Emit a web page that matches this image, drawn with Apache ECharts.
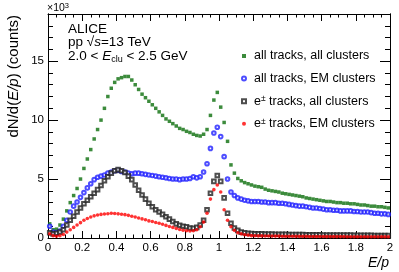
<!DOCTYPE html>
<html><head><meta charset="utf-8">
<script src="https://cdn.jsdelivr.net/npm/echarts@6/dist/echarts.min.js"></script>
<style>html,body{margin:0;padding:0;background:#fff}#c{width:399px;height:272px}</style>
</head><body><div id="c"></div>
<script>
// E/p bin centres (bin width 0.02, range 0..2)
const binWidth = 0.02;
const binCenters = [];
for (let i = 0; i < 100; i++) binCenters.push(Math.round((binWidth / 2 + binWidth * i) * 1000) / 1000);

// counts in units of 10^3
const allTracksAllClusters = [
  1.2, 0.7, 0.75, 1.1, 1.6, 2.3, 3.0, 3.6, 4.2, 5.0,
  5.9, 6.7, 7.5, 8.4, 9.2, 10.0, 11.0, 12.0, 12.7, 13.2,
  13.5, 13.6, 13.7, 13.7, 13.4, 13.0, 12.6, 12.2, 11.9, 11.6,
  11.3, 11.0, 10.7, 10.4, 10.1, 9.9, 9.7, 9.5, 9.3, 9.2,
  9.05, 8.95, 8.8, 8.7, 8.65, 8.8, 9.2, 10.4, 11.7, 12.35,
  11.1, 9.8, 8.2, 6.2, 5.5, 5.05, 4.85, 4.7, 4.6, 4.5,
  4.4, 4.35, 4.3, 4.15, 4.05, 4.0, 3.95, 3.9, 3.8, 3.75,
  3.7, 3.65, 3.6, 3.55, 3.5, 3.4, 3.35, 3.3, 3.25, 3.2,
  3.15, 3.1, 3.1, 3.05, 3.0, 3.0, 2.95, 2.95, 2.9, 2.9,
  2.85, 2.8, 2.8, 2.75, 2.7, 2.7, 2.65, 2.65, 2.6, 2.55
];
const allTracksEMClusters = [
  1.0, 0.5, 0.45, 0.6, 1.0, 1.5, 2.2, 2.7, 3.05, 3.45,
  3.85, 4.25, 4.6, 4.95, 5.15, 5.25, 5.35, 5.5, 5.6, 5.7,
  5.75, 5.65, 5.6, 5.5, 5.45, 5.5, 5.5, 5.45, 5.4, 5.35,
  5.3, 5.25, 5.2, 5.15, 5.1, 5.05, 5.0, 5.0, 4.95, 5.0,
  5.0, 5.05, 5.2, 5.1, 5.2, 5.6, 6.3, 7.6, 8.9, 9.4,
  8.6, 6.9, 5.0, 3.9, 3.6, 3.4, 3.3, 3.2, 3.15, 3.1,
  3.1, 3.1, 3.05, 3.05, 3.0, 3.0, 3.0, 2.95, 2.95, 2.9,
  2.85, 2.8, 2.75, 2.7, 2.7, 2.65, 2.6, 2.55, 2.55, 2.5,
  2.45, 2.4, 2.4, 2.35, 2.35, 2.3, 2.3, 2.3, 2.3, 2.25,
  2.25, 2.2, 2.2, 2.2, 2.15, 2.1, 2.1, 2.05, 2.05, 2.0
];
const eTracksAllClusters = [
  0.45, 0.35, 0.4, 0.5, 0.7, 1.1, 1.5, 1.85, 2.2, 2.55,
  2.9, 3.2, 3.5, 3.8, 4.1, 4.45, 4.85, 5.2, 5.5, 5.7,
  5.8, 5.7, 5.55, 5.25, 4.95, 4.5, 4.05, 3.65, 3.3, 2.95,
  2.65, 2.4, 2.2, 2.0, 1.8, 1.6, 1.4, 1.2, 1.08, 1.0,
  0.95, 0.85, 0.82, 0.9, 1.1, 1.5, 2.4, 3.8, 4.8, 5.3,
  4.8, 3.4, 2.1, 1.25, 0.85, 0.65, 0.5, 0.45, 0.4, 0.38,
  0.36, 0.35, 0.35, 0.34, 0.33, 0.33, 0.32, 0.32, 0.31, 0.31,
  0.3, 0.3, 0.3, 0.29, 0.29, 0.28, 0.28, 0.28, 0.27, 0.27,
  0.26, 0.26, 0.26, 0.25, 0.25, 0.25, 0.24, 0.24, 0.24, 0.23,
  0.23, 0.23, 0.22, 0.22, 0.22, 0.21, 0.21, 0.21, 0.2, 0.2
];
const eTracksEMClusters = [
  0.35, 0.2, 0.15, 0.2, 0.3, 0.5, 0.7, 0.9, 1.1, 1.3,
  1.5, 1.65, 1.78, 1.88, 1.95, 2.0, 2.03, 2.06, 2.1, 2.08,
  2.05, 2.02, 1.98, 1.92, 1.85, 1.78, 1.7, 1.62, 1.55, 1.45,
  1.4, 1.32, 1.25, 1.17, 1.07, 0.98, 0.9, 0.8, 0.72, 0.66,
  0.62, 0.6, 0.62, 0.7, 0.95, 1.35, 2.1, 3.3, 4.1, 4.5,
  3.9, 2.4, 1.5, 0.95, 0.65, 0.45, 0.35, 0.28, 0.24, 0.2,
  0.19, 0.18, 0.18, 0.17, 0.17, 0.16, 0.16, 0.16, 0.15, 0.15,
  0.15, 0.15, 0.14, 0.14, 0.14, 0.14, 0.13, 0.13, 0.13, 0.13,
  0.13, 0.12, 0.12, 0.12, 0.12, 0.12, 0.12, 0.11, 0.11, 0.11,
  0.11, 0.11, 0.11, 0.11, 0.1, 0.1, 0.1, 0.1, 0.1, 0.1
];

const seriesNames = ['all tracks, all clusters', 'all tracks, EM clusters', 'e± tracks, all clusters', 'e± tracks, EM clusters'];
const xTicks = { min: 0, max: 2, interval: 0.2 };
const yTicks = { min: 0, max: 19, major: 5, minor: 1 };

const FONT = 'Liberation Sans, Arial, Helvetica, sans-serif';
const chart = echarts.init(document.getElementById('c'), null, { renderer: 'canvas' });

function pairs(arr) { return binCenters.map((x, i) => [x, arr[i]]); }

const gridRect = { left: 48, right: 9, top: 14, bottom: 34 };
const blk = { color: '#000', width: 1 };

function xAx(pos, labels, gridIndex, show) {
  return {
    type: 'value', gridIndex, position: pos, show: show,
    min: xTicks.min, max: xTicks.max, interval: xTicks.interval,
    axisLine: { show: true, onZero: false, lineStyle: blk },
    axisTick: { show: true, inside: true, length: 7, lineStyle: blk },
    minorTick: { show: true, splitNumber: 4, length: 3.5, lineStyle: blk },
    axisLabel: { show: labels, color: '#000', fontSize: 11.5, fontFamily: FONT, margin: 4 },
    splitLine: { show: false }, minorSplitLine: { show: false }
  };
}
function yAx(pos, interval, tickLen, labels, gridIndex) {
  return {
    type: 'value', gridIndex, position: pos,
    min: yTicks.min, max: yTicks.max, interval: interval,
    axisLine: { show: true, onZero: false, lineStyle: blk },
    axisTick: { show: true, inside: true, length: tickLen, lineStyle: blk },
    minorTick: { show: false },
    axisLabel: { show: labels, color: '#000', fontSize: 11.5, fontFamily: FONT, margin: 4, showMaxLabel: false,
      formatter: v => (v % yTicks.major === 0 ? String(v) : '') },
    splitLine: { show: false }
  };
}

const txt = { fontSize: 13.5, fontFamily: FONT, fill: '#000', lineHeight: 16 };
const txtI = Object.assign({}, txt, { fontStyle: 'italic' });

const option = {
  animation: false,
  backgroundColor: '#fff',
  grid: [Object.assign({}, gridRect), Object.assign({}, gridRect)],
  xAxis: [xAx('bottom', true, 0, true), xAx('top', false, 0, true), xAx('bottom', false, 1, false)],
  yAxis: [
    yAx('left', yTicks.major, 10, true, 0),
    yAx('right', yTicks.major, 10, false, 0),
    yAx('left', yTicks.minor, 5, false, 1),
    yAx('right', yTicks.minor, 5, false, 1)
  ],
  legend: {
    orient: 'vertical', left: 236, top: 44, itemWidth: 4, itemHeight: 4, itemGap: 8.6,
    data: seriesNames,
    formatter: name => name.replace('e±', '{n|e}{s|±}'),
    textStyle: {
      color: '#000', fontSize: 12.5, fontFamily: FONT, lineHeight: 14, padding: [0, 0, 0, 3],
      rich: { n: { fontSize: 12.5, fontFamily: FONT, lineHeight: 14 }, s: { fontSize: 8.5, fontFamily: FONT, verticalAlign: 'top', lineHeight: 9 } }
    }
  },
  series: [
    { name: seriesNames[0], type: 'scatter', xAxisIndex: 0, yAxisIndex: 0, symbol: 'rect', symbolSize: 3.5,
      itemStyle: { color: '#0b6e0b' }, data: pairs(allTracksAllClusters) },
    { name: seriesNames[1], type: 'scatter', xAxisIndex: 0, yAxisIndex: 0, symbol: 'emptyCircle', symbolSize: 3.6,
      itemStyle: { color: '#2020ff', borderWidth: 1 }, data: pairs(allTracksEMClusters) },
    { name: seriesNames[2], type: 'scatter', xAxisIndex: 0, yAxisIndex: 0, symbol: 'emptyRect', symbolSize: 3.6,
      itemStyle: { color: '#222', borderWidth: 1 }, data: pairs(eTracksAllClusters) },
    { name: seriesNames[3], type: 'scatter', xAxisIndex: 0, yAxisIndex: 0, symbol: 'circle', symbolSize: 3.6,
      itemStyle: { color: '#ff0000' }, data: pairs(eTracksEMClusters) }
  ],
  graphic: [
    { type: 'text', x: 47, y: 8, style: { text: '{n|×10}{s|3}', verticalAlign: 'middle', align: 'left',
      rich: { n: { fontSize: 10.5, fontFamily: FONT, fill: '#000', lineHeight: 12 }, s: { fontSize: 7.5, fontFamily: FONT, fill: '#000', verticalAlign: 'top', lineHeight: 8 } } } },
    { type: 'text', x: 68, y: 29, style: { text: '{n|ALICE}', verticalAlign: 'middle', align: 'left', rich: { n: txt } } },
    { type: 'text', x: 68, y: 42, style: { text: '{n|pp }{n|√}{i|s}{n|=13 TeV}', verticalAlign: 'middle', align: 'left',
      rich: { n: txt, i: txtI } } },
    { type: 'text', x: 68, y: 56, style: { text: '{n|2.0 < }{i|E}{b|clu}{n| < 2.5 GeV}', verticalAlign: 'middle', align: 'left',
      rich: { n: txt, i: txtI, b: { fontSize: 9, fontFamily: FONT, fill: '#000', verticalAlign: 'bottom', lineHeight: 10 } } } },
    { type: 'text', x: 389, y: 263, style: { text: '{i|E/p}', align: 'right', verticalAlign: 'middle',
      rich: { i: { fontSize: 14, fontFamily: FONT, fontStyle: 'italic', fill: '#000', lineHeight: 16 } } } },
    { type: 'text', x: 14, y: 15, rotation: Math.PI / 2, style: { text: '{n|dN/d(}{i|E/p}{n|) (counts)}', align: 'right', verticalAlign: 'middle',
      rich: { n: { fontSize: 15, fontFamily: FONT, fill: '#000', lineHeight: 17 }, i: { fontSize: 15, fontFamily: FONT, fontStyle: 'italic', fill: '#000', lineHeight: 17 } } } }
  ]
};
chart.setOption(option);
</script>
</body></html>
